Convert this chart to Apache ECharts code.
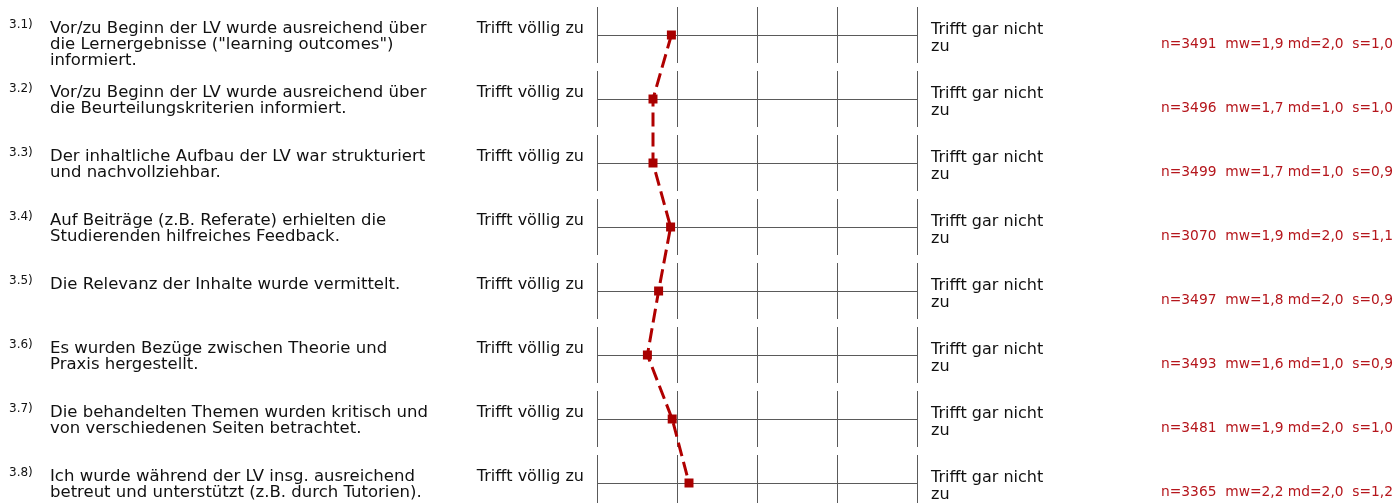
<!DOCTYPE html>
<html>
<head>
<meta charset="utf-8">
<title>Lehrveranstaltung - Profillinie</title>
<script src="https://cdn.jsdelivr.net/npm/echarts@6/dist/echarts.min.js"></script>
<style>
  html, body { margin: 0; padding: 0; background: #fff; }
  #chart { width: 1395px; height: 503px; }
</style>
</head>
<body>
<div id="chart"></div>
<script>
// Daten
const itemNumbers = ['3.1)', '3.2)', '3.3)', '3.4)', '3.5)', '3.6)', '3.7)', '3.8)'];
const questions = [
  'Vor/zu Beginn der LV wurde ausreichend über\ndie Lernergebnisse ("learning outcomes")\ninformiert.',
  'Vor/zu Beginn der LV wurde ausreichend über\ndie Beurteilungskriterien informiert.',
  'Der inhaltliche Aufbau der LV war strukturiert\nund nachvollziehbar.',
  'Auf Beiträge (z.B. Referate) erhielten die\nStudierenden hilfreiches Feedback.',
  'Die Relevanz der Inhalte wurde vermittelt.',
  'Es wurden Bezüge zwischen Theorie und\nPraxis hergestellt.',
  'Die behandelten Themen wurden kritisch und\nvon verschiedenen Seiten betrachtet.',
  'Ich wurde während der LV insg. ausreichend\nbetreut und unterstützt (z.B. durch Tutorien).'
];
const means = [1.93, 1.70, 1.70, 1.92, 1.77, 1.63, 1.94, 2.15];
const nValues = [3491, 3496, 3499, 3070, 3497, 3493, 3481, 3365];
const mwLabels = ['1,9', '1,7', '1,7', '1,9', '1,8', '1,6', '1,9', '2,2'];
const mdLabels = ['2,0', '1,0', '1,0', '2,0', '2,0', '1,0', '2,0', '2,0'];
const sLabels = ['1,0', '1,0', '0,9', '1,1', '0,9', '0,9', '1,0', '1,2'];
const scalePoints = [1, 2, 3, 4, 5];
const leftPole = 'Trifft völlig zu';
const rightPole = 'Trifft gar nicht\nzu';

const FONT = '"DejaVu Sans", "Liberation Sans", sans-serif';
const GRID_COLOR = '#5a5a5a';

// Beschriftung und Skalenstriche pro Zeile
function renderRow(params, api) {
  const row = api.value(1);
  const left = api.coord([scalePoints[0], row]);
  const right = api.coord([scalePoints[scalePoints.length - 1], row]);
  const y = Math.round(left[1]);
  const children = [];

  scalePoints.forEach(v => {
    const x = Math.round(api.coord([v, row])[0]) + 0.5;
    children.push({
      type: 'line',
      shape: { x1: x, y1: y - 28, x2: x, y2: y + 28 },
      style: { stroke: GRID_COLOR, lineWidth: 1 }
    });
  });

  children.push({
    type: 'text',
    style: {
      text: itemNumbers[row], x: 9, y: y - 10,
      fontSize: 12, fontFamily: FONT, fill: '#111',
      align: 'left', verticalAlign: 'middle'
    }
  });
  children.push({
    type: 'text',
    style: {
      text: questions[row], x: 50, y: y - 14,
      fontSize: 16.5, lineHeight: 16, fontFamily: FONT, fill: '#111',
      align: 'left', verticalAlign: 'top'
    }
  });
  children.push({
    type: 'text',
    style: {
      text: leftPole, x: left[0] - 13, y: y - 6,
      fontSize: 16, fontFamily: FONT, fill: '#111',
      align: 'right', verticalAlign: 'middle'
    }
  });
  children.push({
    type: 'text',
    style: {
      text: rightPole, x: right[0] + 14, y: y - 14,
      fontSize: 16, lineHeight: 17, fontFamily: FONT, fill: '#111',
      align: 'left', verticalAlign: 'top'
    }
  });
  children.push({
    type: 'text',
    style: {
      text: 'n=' + nValues[row] + '  mw=' + mwLabels[row] + ' md=' + mdLabels[row] + '  s=' + sLabels[row],
      x: 1393, y: y + 9,
      fontSize: 13.8, fontFamily: FONT, fill: '#b5161c',
      align: 'right', verticalAlign: 'middle'
    }
  });

  return { type: 'group', children: children };
}

const chart = echarts.init(document.getElementById('chart'));
chart.setOption({
  animation: false,
  backgroundColor: '#fff',
  grid: { left: 597, right: 478, top: 35, bottom: 20, containLabel: false },
  xAxis: {
    type: 'value',
    min: 1,
    max: 5,
    interval: 1,
    axisLine: { show: false },
    axisTick: { show: false },
    axisLabel: { show: false },
    splitLine: { show: false }
  },
  yAxis: {
    type: 'category',
    inverse: true,
    boundaryGap: false,
    data: itemNumbers,
    axisLine: { show: false },
    axisTick: { show: false },
    axisLabel: { show: false },
    splitLine: { show: true, lineStyle: { color: GRID_COLOR, width: 1 } }
  },
  series: [
    {
      type: 'custom',
      z: 1,
      silent: true,
      renderItem: renderRow,
      data: itemNumbers.map((c, i) => [scalePoints[0], i])
    },
    {
      type: 'line',
      z: 3,
      data: means.map((m, i) => [m, i]),
      symbol: 'rect',
      symbolSize: 9,
      itemStyle: { color: '#a80000' },
      lineStyle: { color: '#b00000', width: 3, type: [14, 6] }
    }
  ]
});
</script>
</body>
</html>
